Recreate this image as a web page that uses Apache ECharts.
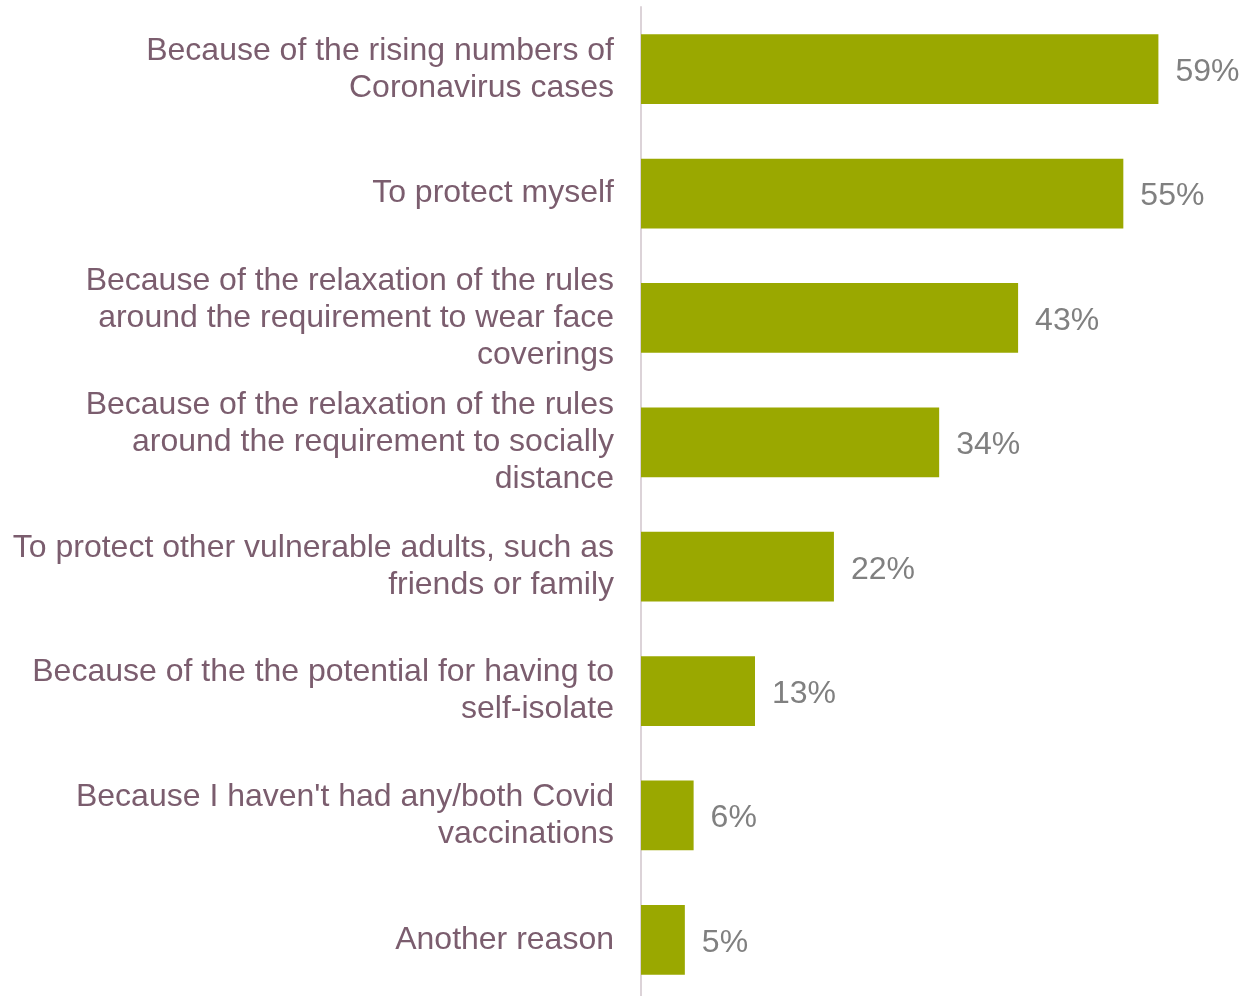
<!DOCTYPE html>
<html><head><meta charset="utf-8">
<script src="https://cdn.jsdelivr.net/npm/echarts@6/dist/echarts.min.js"></script>
<style>html,body{margin:0;padding:0;background:#fff}#c{width:1244px;height:996px}</style>
</head><body><div id="c"></div>
<script>
const categories = [
  "Because of the rising numbers of\nCoronavirus cases",
  "To protect myself",
  "Because of the relaxation of the rules\naround the requirement to wear face\ncoverings",
  "Because of the relaxation of the rules\naround the requirement to socially\ndistance",
  "To protect other vulnerable adults, such as\nfriends or family",
  "Because of the the potential for having to\nself-isolate",
  "Because I haven't had any/both Covid\nvaccinations",
  "Another reason"
];
const values = [59, 55, 43, 34, 22, 13, 6, 5];

const chart = echarts.init(document.getElementById('c'), null, {renderer: 'canvas'});
chart.setOption({
  animation: false,
  grid: {left: 641, top: 7, width: 603, height: 995, outerBoundsMode: 'none', containLabel: false},
  xAxis: {type: 'value', min: 0, max: 68.76, show: false},
  yAxis: {
    type: 'category', data: categories, inverse: true,
    axisLine: {show: true, lineStyle: {color: '#dcd3d8', width: 2}},
    axisTick: {show: false},
    axisLabel: {
      margin: 27, color: '#7b5d6e', fontSize: 32, lineHeight: 37,
      fontFamily: 'Liberation Sans', align: 'right', padding: [6, 0, 0, 0]
    }
  },
  series: [{
    type: 'bar', data: values, barWidth: '56%',
    itemStyle: {color: '#9aa800'},
    label: {
      show: true, position: 'right', distance: 17, formatter: '{c}%', offset: [0, 3],
      color: '#808080', fontSize: 32, fontFamily: 'Liberation Sans'
    }
  }]
});
</script></body></html>
